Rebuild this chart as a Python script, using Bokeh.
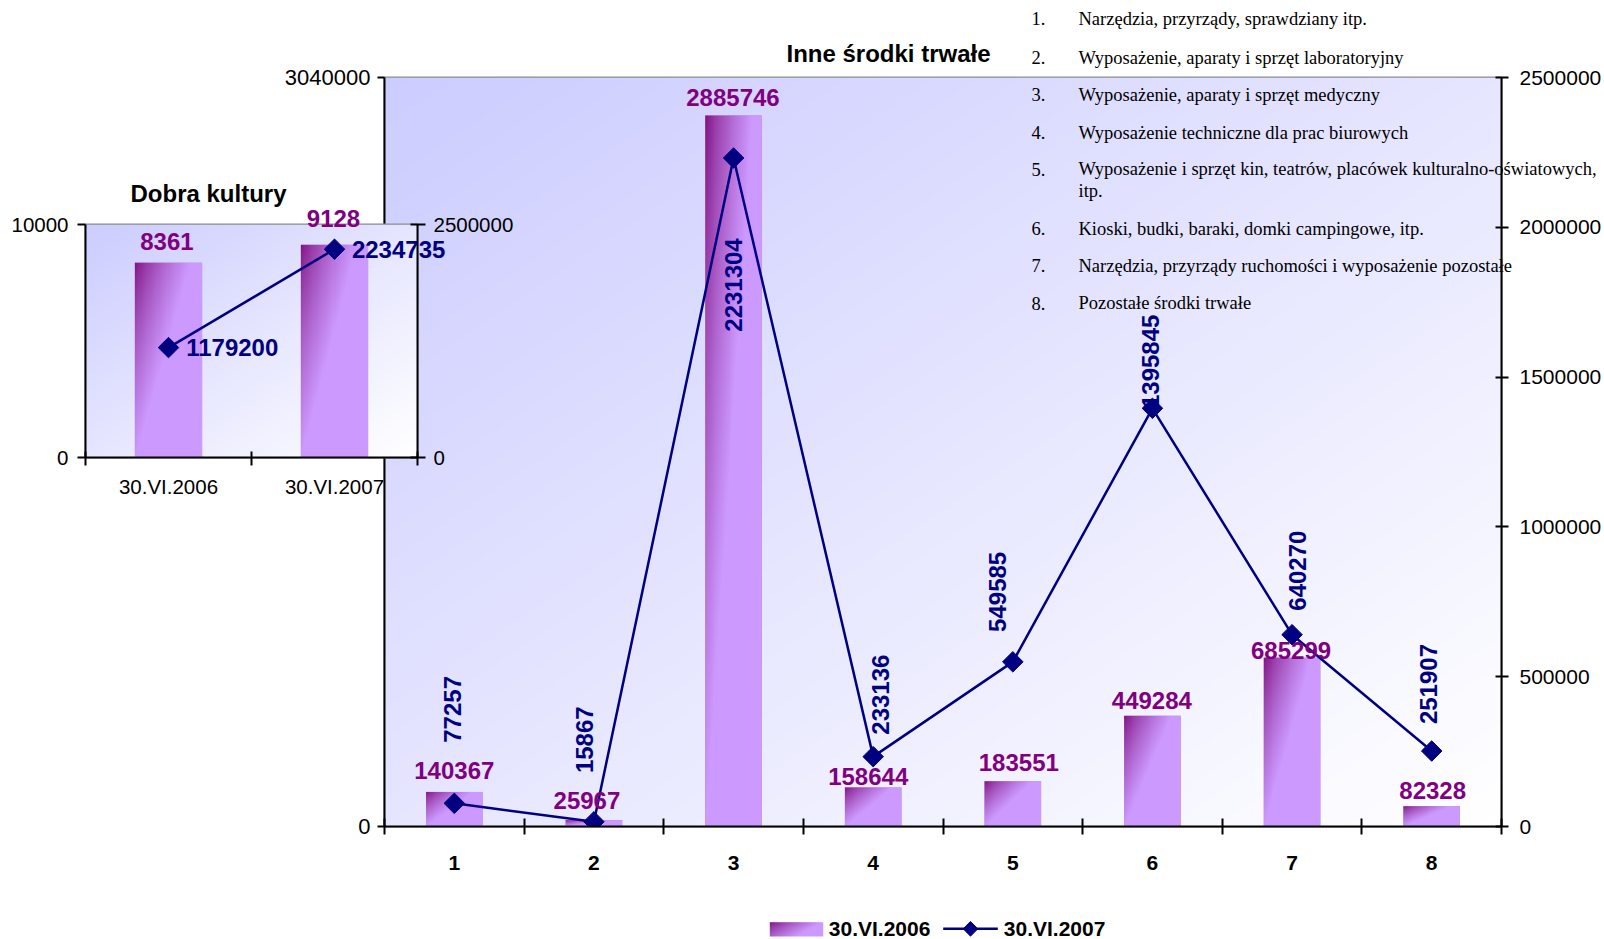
import numpy as np
from bokeh.plotting import figure
from bokeh.models import (Range1d, LinearAxis, FixedTicker, NumeralTickFormatter, ColumnDataSource)
from bokeh.embed import file_html
from bokeh.resources import INLINE
from bokeh.core.properties import value

# ---------------- data ----------------
categories = ["1", "2", "3", "4", "5", "6", "7", "8"]
values_2006 = [140367, 25967, 2885746, 158644, 183551, 449284, 685299, 82328]
values_2007 = [77257, 15867, 2231304, 233136, 549585, 1395845, 640270, 251907]
series_names = ["30.VI.2006", "30.VI.2007"]
main_title = "Inne środki trwałe"
left_ticks = [0, 3040000]
right_ticks = [0, 500000, 1000000, 1500000, 2000000, 2500000]

inset_title = "Dobra kultury"
inset_categories = ["30.VI.2006", "30.VI.2007"]
inset_bars = [8361, 9128]
inset_line = [1179200, 2234735]
inset_left_ticks = [0, 10000]
inset_right_ticks = [0, 2500000]

descriptions = [
    "Narzędzia, przyrządy, sprawdziany itp.",
    "Wyposażenie, aparaty i sprzęt laboratoryjny",
    "Wyposażenie, aparaty i sprzęt medyczny",
    "Wyposażenie techniczne dla prac biurowych",
    "Wyposażenie i sprzęt kin, teatrów, placówek kulturalno-oświatowych,\nitp.",
    "Kioski, budki, baraki, domki campingowe, itp.",
    "Narzędzia, przyrządy ruchomości i wyposażenie pozostałe",
    "Pozostałe środki trwałe",
]

# ---------------- styles / layout ----------------
SANS = "Liberation Sans"
SERIF = "Liberation Serif"
PURPLE = "#800080"
NAVY = "#000080"
BAR_W = 0.405
BAR_DARK = (128, 16, 128)
BAR_LIGHT = (204, 153, 255)
BG_DARK = (204, 204, 255)
BG_LIGHT = (255, 255, 255)
SWATCH = "#b07ad8"

# label offsets in screen px (glyph offsets: +y = down)
bar_label_dx = [0, -7, -0.6, -5, 6, -0.6, -1, 1]
bar_label_dy = [-21, -20, -17.7, -10.6, -18.8, -15.7, -6.9, -15.4]
line_label_dx = [-1.6, -9, 0, 7.4, -15, -1.6, 5, -3.4]
line_label_dy = [-94, -82, 127, -62, -70, -47, -64, -67]
inset_bar_dx = [-1.6, -1]
inset_bar_dy = [-21, -26]
inset_line_dx = [17.7, 17.4]


def gradient(rows, cols, c0, c1, fu, fv, gamma=1.0):
    u = np.linspace(0, 1, cols)[None, :]
    v = np.linspace(1, 0, rows)[:, None]  # distance from top (row 0 = bottom)
    t = np.clip(fu * u + fv * v, 0, 1) ** gamma
    img = np.empty((rows, cols), dtype=np.uint32)
    view = img.view(dtype=np.uint8).reshape((rows, cols, 4))
    for k in range(3):
        view[:, :, k] = np.round(c0[k] * (1 - t) + c1[k] * t).astype(np.uint8)
    view[:, :, 3] = 255
    return img


bg_img = gradient(240, 240, BG_DARK, BG_LIGHT, 0.5, 0.5)
bar_img = gradient(400, 60, BAR_DARK, BAR_LIGHT, 1.2, 1.0, 0.75)
swatch_img = gradient(30, 80, BAR_DARK, BAR_LIGHT, 1.0, 0.5, 0.8)


def style_axis(ax, size="21px", bold=False):
    ax.axis_line_color = "black"
    ax.axis_line_width = 2
    ax.major_tick_line_color = "black"
    ax.major_tick_line_width = 2
    ax.minor_tick_line_color = "black"
    ax.minor_tick_line_width = 2
    ax.major_label_text_font = SANS
    ax.major_label_text_font_size = size
    ax.major_label_text_color = "black"
    if bold:
        ax.major_label_text_font_style = "bold"


# ---------------- main figure ----------------
W, H = 1604, 939
FL, FT, FW, FH = 384, 77, 1117, 749
n = len(categories)
xs = list(range(1, n + 1))

p = figure(width=W, height=H, x_range=Range1d(0.5, n + 0.5), y_range=Range1d(0, left_ticks[-1]),
           x_axis_type=None, y_axis_type=None, output_backend="svg", toolbar_location=None,
           min_border_left=FL, min_border_right=W - FL - FW, min_border_top=FT,
           min_border_bottom=H - FT - FH)
p.extra_y_ranges = {"right": Range1d(0, right_ticks[-1])}
p.outline_line_color = "#8c8c8c"
p.outline_line_width = 2
p.border_fill_color = "white"
p.background_fill_color = "white"

p.image_rgba(image=[bg_img], x=0.5, y=0, dw=n, dh=left_ticks[-1], level="image")

bar_src = ColumnDataSource(dict(x=xs, top=values_2006))
bar_r = p.vbar(x="x", top="top", width=BAR_W, source=bar_src, fill_color=SWATCH, line_color=None)
p.image_rgba(image=[bar_img] * n, x=[x - BAR_W / 2 for x in xs], y=[0] * n,
             dw=[BAR_W] * n, dh=values_2006, level="glyph")

line_r = p.line(xs, values_2007, y_range_name="right", line_color=NAVY, line_width=2.5)
pts_r = p.scatter(xs, values_2007, y_range_name="right", marker="square", angle=np.pi / 4,
                  size=14.5, fill_color=NAVY, line_color=NAVY)

p.text(x=xs, y=values_2006, text=[str(v) for v in values_2006], x_offset=bar_label_dx,
       y_offset=bar_label_dy, text_font=value(SANS), text_font_style="bold",
       text_font_size="24px", text_color=PURPLE, text_align="center", text_baseline="middle")
p.text(x=xs, y=values_2007, text=[str(v) for v in values_2007], x_offset=line_label_dx,
       y_offset=line_label_dy, y_range_name="right", angle=np.pi / 2,
       text_font=value(SANS), text_font_style="bold", text_font_size="24px",
       text_color=NAVY, text_align="center", text_baseline="middle")

yl = LinearAxis(ticker=FixedTicker(ticks=left_ticks), formatter=NumeralTickFormatter(format="0"),
                major_tick_in=0, major_tick_out=7, minor_tick_in=0, minor_tick_out=0,
                major_label_standoff=7)
style_axis(yl, size="22px")
p.add_layout(yl, "left")

yr = LinearAxis(y_range_name="right", ticker=FixedTicker(ticks=right_ticks),
                formatter=NumeralTickFormatter(format="0"),
                major_tick_in=6, major_tick_out=7, minor_tick_in=0, minor_tick_out=0,
                major_label_standoff=11)
style_axis(yr, size="21px")
p.add_layout(yr, "right")

xb = LinearAxis(ticker=FixedTicker(ticks=xs, minor_ticks=[x - 0.5 for x in xs] + [n + 0.5]),
                major_label_overrides={x: c for x, c in zip(xs, categories)},
                major_tick_in=0, major_tick_out=0, minor_tick_in=8, minor_tick_out=8,
                major_label_standoff=21)
style_axis(xb, size="21px", bold=True)
p.add_layout(xb, "below")

# ---------------- inset figure ("Dobra kultury") ----------------
IX0, IY0, IW, IH = 85, 224, 332, 233     # frame position on the page
IL, IR, IT, IB = 77, 100, 45, 58
m = len(inset_categories)
ixs = list(range(1, m + 1))
pin = figure(width=IL + IW + IR, height=IT + IH + IB, x_range=Range1d(0.5, m + 0.5),
             y_range=Range1d(0, inset_left_ticks[-1]), x_axis_type=None, y_axis_type=None,
             output_backend="svg", toolbar_location=None,
             min_border_left=IL, min_border_right=IR, min_border_top=IT, min_border_bottom=IB)
pin.extra_y_ranges = {"right": Range1d(0, inset_right_ticks[-1])}
pin.border_fill_alpha = 0
pin.background_fill_alpha = 0
pin.outline_line_color = "#8c8c8c"
pin.outline_line_width = 2
pin.styles = {"position": "absolute", "left": f"{IX0 - IL}px", "top": f"{IY0 - IT}px",
              "z-index": "5"}

pin.image_rgba(image=[bg_img], x=0.5, y=0, dw=m, dh=inset_left_ticks[-1], level="image")
pin.vbar(x=ixs, top=inset_bars, width=BAR_W, fill_color=SWATCH, line_color=None)
pin.image_rgba(image=[bar_img] * m, x=[x - BAR_W / 2 for x in ixs], y=[0] * m,
               dw=[BAR_W] * m, dh=inset_bars, level="glyph")
pin.line(ixs, inset_line, y_range_name="right", line_color=NAVY, line_width=2.5)
pin.scatter(ixs, inset_line, y_range_name="right", marker="square", angle=np.pi / 4,
            size=14.5, fill_color=NAVY, line_color=NAVY)

iyl = LinearAxis(ticker=FixedTicker(ticks=inset_left_ticks), formatter=NumeralTickFormatter(format="0"),
                 major_tick_in=0, major_tick_out=8, minor_tick_in=0, minor_tick_out=0,
                 major_label_standoff=9)
style_axis(iyl, size="20.5px")
pin.add_layout(iyl, "left")
iyr = LinearAxis(y_range_name="right", ticker=FixedTicker(ticks=inset_right_ticks),
                 formatter=NumeralTickFormatter(format="0"),
                 major_tick_in=7, major_tick_out=8, minor_tick_in=0, minor_tick_out=0,
                 major_label_standoff=8)
style_axis(iyr, size="20.5px")
pin.add_layout(iyr, "right")
ixb = LinearAxis(ticker=FixedTicker(ticks=ixs, minor_ticks=[x - 0.5 for x in ixs] + [m + 0.5]),
                 major_label_overrides={x: c for x, c in zip(ixs, inset_categories)},
                 major_tick_in=0, major_tick_out=0, minor_tick_in=6, minor_tick_out=8,
                 major_label_standoff=9)
style_axis(ixb, size="20.5px")
pin.add_layout(ixb, "below")

# ---------------- overlay figure for texts outside the plot frames ----------------
# default ranges reproduce the inset's data scales over the whole page,
# "px"/"py" are page pixels (py grows downward, pyu grows upward)
icw = IW / m
ov = figure(width=W, height=H, output_backend="svg", toolbar_location=None,
            x_axis_type=None, y_axis_type=None,
            x_range=Range1d(0.5 - IX0 / icw, 0.5 + (W - IX0) / icw),
            y_range=Range1d((IY0 + IH - H) / IH * inset_left_ticks[-1],
                            (IY0 + IH) / IH * inset_left_ticks[-1]),
            min_border_left=0, min_border_right=0, min_border_top=0, min_border_bottom=0)
ov.extra_y_ranges = {"iright": Range1d((IY0 + IH - H) / IH * inset_right_ticks[-1],
                                       (IY0 + IH) / IH * inset_right_ticks[-1]),
                     "py": Range1d(H, 0), "pyu": Range1d(0, H)}
ov.extra_x_ranges = {"px": Range1d(0, W)}
ov.border_fill_alpha = 0
ov.background_fill_alpha = 0
ov.outline_line_color = None
ov.styles = {"position": "absolute", "left": "0px", "top": "0px", "z-index": "10"}

# inset data labels (through the inset scales)
ov.text(x=ixs, y=inset_bars, text=[str(v) for v in inset_bars], x_offset=inset_bar_dx,
        y_offset=inset_bar_dy, text_font=value(SANS), text_font_style="bold",
        text_font_size="24px", text_color=PURPLE, text_align="center", text_baseline="middle")
ov.text(x=ixs, y=inset_line, text=[str(v) for v in inset_line], x_offset=inset_line_dx,
        y_range_name="iright", text_font=value(SANS), text_font_style="bold",
        text_font_size="24px", text_color=NAVY, text_align="left", text_baseline="middle")

# titles
ov.text(x=[888, 208], y=[53, 193], text=[main_title, inset_title], x_range_name="px",
        y_range_name="py", text_font=value(SANS), text_font_style="bold",
        text_font_size="24px", text_color="black", text_align="center", text_baseline="middle")

# numbered description list
row_y = [18.4, 57.3, 94.1, 132, 168.8, 228, 265, 302.8]
num_txt, num_y, d_txt, d_y = [], [], [], []
for i, (desc, yy) in enumerate(zip(descriptions, row_y)):
    num_txt.append(f"{i + 1}.")
    num_y.append(yy)
    for j, part in enumerate(desc.split("\n")):
        d_txt.append(part)
        d_y.append(yy + 21.5 * j)
ov.text(x=[1031] * len(num_txt), y=num_y, text=num_txt, x_range_name="px", y_range_name="py",
        text_font=value(SERIF), text_font_size="18.5px", text_color="black",
        text_align="left", text_baseline="middle")
ov.text(x=[1078] * len(d_txt), y=d_y, text=d_txt, x_range_name="px", y_range_name="py",
        text_font=value(SERIF), text_font_size="18.5px", text_color="black",
        text_align="left", text_baseline="middle")

# legend (drawn as key glyphs + labels below the chart)
LEG_Y = 928.3
ov.image_rgba(image=[swatch_img], x=769.3, y=H - 936, dw=53.4, dh=14.3,
              x_range_name="px", y_range_name="pyu", level="glyph")
ov.line(x=[942.7, 997.3], y=[LEG_Y, LEG_Y], x_range_name="px", y_range_name="py",
        line_color=NAVY, line_width=2.5)
ov.scatter(x=[970], y=[LEG_Y], x_range_name="px", y_range_name="py", marker="square",
           angle=np.pi / 4, size=10.4, fill_color=NAVY, line_color=NAVY)
ov.text(x=[828.3, 1003.3], y=[LEG_Y, LEG_Y], text=series_names, x_range_name="px",
        y_range_name="py", text_font=value(SANS), text_font_style="bold",
        text_font_size="21px", text_color="black", text_align="left", text_baseline="middle")

open("out.html", "w").write(file_html([p, pin, ov], INLINE))
